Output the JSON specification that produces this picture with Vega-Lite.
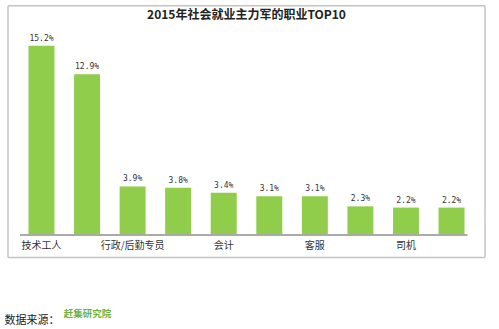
{
  "$schema": "https://vega.github.io/schema/vega-lite/v6.json",
  "autosize": "none",
  "width": 477,
  "height": 253,
  "padding": {"left": 8, "top": 5, "right": 14, "bottom": 71},
  "background": "white",
  "config": {"view": {"stroke": null}},
  "title": {
    "text": "2015年社会就业主力军的职业TOP10",
    "font": "Noto Sans CJK SC",
    "fontSize": 12,
    "fontWeight": "bold",
    "color": "#222",
    "anchor": "middle",
    "offset": -17
  },
  "data": {
    "values": [
      {"job": "技术工人", "pct": 15.2, "label": "15.2%"},
      {"job": "普工", "pct": 12.9, "label": "12.9%"},
      {"job": "行政/后勤专员", "pct": 3.9, "label": "3.9%"},
      {"job": "销售", "pct": 3.8, "label": "3.8%"},
      {"job": "会计", "pct": 3.4, "label": "3.4%"},
      {"job": "服务员", "pct": 3.1, "label": "3.1%"},
      {"job": "客服", "pct": 3.1, "label": "3.1%"},
      {"job": "快递员", "pct": 2.3, "label": "2.3%"},
      {"job": "司机", "pct": 2.2, "label": "2.2%"},
      {"job": "保安", "pct": 2.2, "label": "2.2%"}
    ]
  },
  "layer": [
    {
      "layer": [
        {
          "mark": {"type": "bar", "color": "#8fcd4b"},
          "encoding": {
            "x": {
              "field": "job",
              "type": "nominal",
              "sort": null,
              "scale": {"paddingInner": 0.43, "paddingOuter": 0.45},
              "axis": {
                "orient": "bottom",
                "domain": false,
                "title": "数据来源：",
                "titleFont": "Noto Sans CJK SC",
                "titleFontSize": 11,
                "titleFontWeight": "normal",
                "titleColor": "#222",
                "titleAnchor": "start",
                "titleAlign": "left",
                "titleBaseline": "middle",
                "titleX": -4,
                "titleY": 62,
                "labelAngle": 0,
                "labelFont": "Noto Sans CJK SC",
                "labelFontSize": 10,
                "labelColor": "#333",
                "labelBaseline": "middle",
                "labelPadding": -13,
                "labelExpr": "indexof(['技术工人','行政/后勤专员','会计','客服','司机'], datum.value) >= 0 ? datum.value : ''",
                "ticks": false
              }
            },
            "y": {
              "field": "pct",
              "type": "quantitative",
              "scale": {"domain": [-1.85, 18.47], "nice": false, "zero": false},
              "axis": {
                "orient": "left",
                "domain": false,
                "title": "赶集研究院",
                "titleFont": "Noto Sans CJK SC",
                "titleFontSize": 9.5,
                "titleFontWeight": "bold",
                "titleColor": "#6db33f",
                "titleAngle": 0,
                "titleAlign": "center",
                "titleBaseline": "middle",
                "titleX": 79,
                "titleY": 308,
                "labels": false,
                "ticks": false,
                "grid": false
              }
            },
            "y2": {"datum": 0}
          }
        },
        {
          "mark": {"type": "text", "dy": -7, "font": "DejaVu Sans Mono", "fontSize": 8, "color": "#333"},
          "encoding": {
            "x": {"field": "job", "type": "nominal", "sort": null},
            "y": {"field": "pct", "type": "quantitative"},
            "text": {"field": "label"}
          }
        },
        {
          "mark": {"type": "rule", "color": "#aaaaaa", "strokeWidth": 1.5},
          "encoding": {
            "x": {"datum": "技术工人", "type": "nominal", "bandPosition": -0.3},
            "x2": {"datum": "保安", "bandPosition": 1.1},
            "y": {"datum": 0, "type": "quantitative"}
          }
        }
      ]
    },
    {
      "data": {"values": [{"x0": 0, "x1": 1, "ytop": 18.4, "ybot": -1.8}]},
      "layer": [
        {
          "mark": {"type": "rule", "color": "#c4c4c4", "strokeWidth": 1.5},
          "encoding": {
            "x": {"field": "x0", "type": "quantitative", "scale": {"domain": [0, 1], "nice": false}, "axis": null},
            "x2": {"field": "x1"},
            "y": {"field": "ytop", "type": "quantitative"}
          }
        },
        {
          "mark": {"type": "rule", "color": "#c4c4c4", "strokeWidth": 1.5},
          "encoding": {
            "x": {"field": "x0", "type": "quantitative", "scale": {"domain": [0, 1], "nice": false}, "axis": null},
            "x2": {"field": "x1"},
            "y": {"field": "ybot", "type": "quantitative"}
          }
        },
        {
          "mark": {"type": "rule", "color": "#c4c4c4", "strokeWidth": 1.5},
          "encoding": {
            "x": {"field": "x0", "type": "quantitative", "scale": {"domain": [0, 1], "nice": false}, "axis": null},
            "y": {"field": "ytop", "type": "quantitative"},
            "y2": {"field": "ybot"}
          }
        },
        {
          "mark": {"type": "rule", "color": "#c4c4c4", "strokeWidth": 1.5},
          "encoding": {
            "x": {"field": "x1", "type": "quantitative", "scale": {"domain": [0, 1], "nice": false}, "axis": null},
            "y": {"field": "ytop", "type": "quantitative"},
            "y2": {"field": "ybot"}
          }
        }
      ]
    }
  ],
  "resolve": {"scale": {"x": "independent"}}
}
